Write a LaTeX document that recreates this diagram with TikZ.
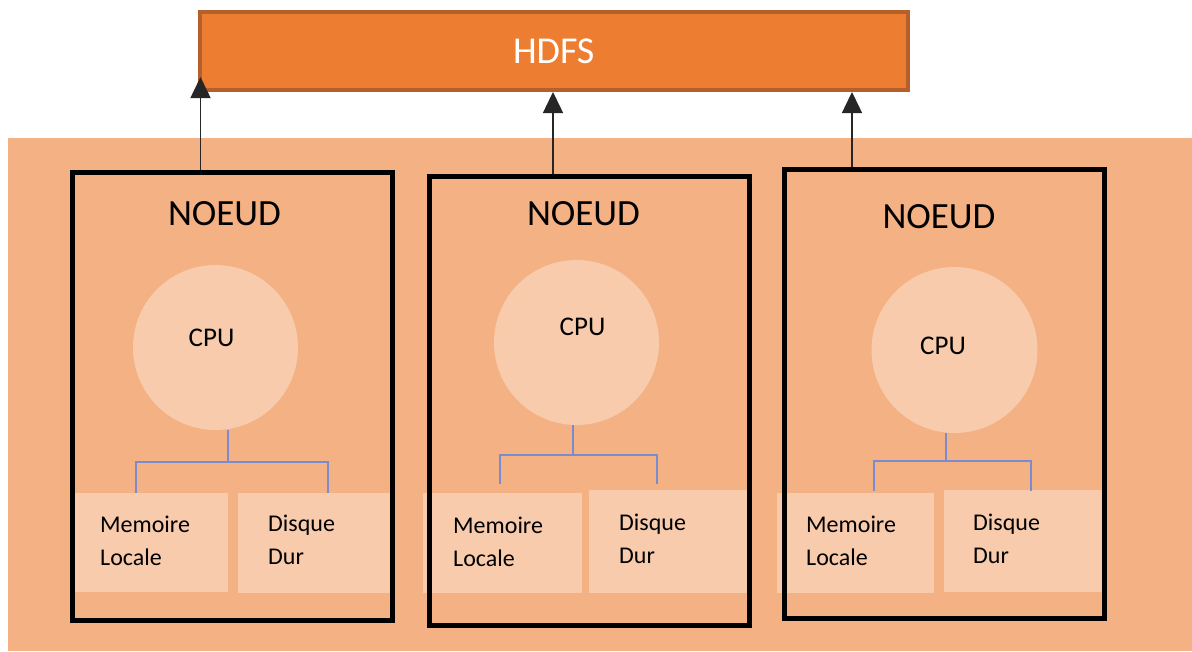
\documentclass[tikz,border=0pt]{standalone}
\usepackage{fontspec}
\setmainfont{Carlito}
\usetikzlibrary{arrows.meta}
\definecolor{hdfsfill}{HTML}{ED7D31}
\definecolor{hdfsline}{HTML}{B5602A}
\definecolor{bgfill}{HTML}{F4B183}
\definecolor{lightfill}{HTML}{F8CBAD}
\definecolor{connblue}{HTML}{7A8CCF}
\begin{document}
\begin{tikzpicture}[x=1pt,y=-1pt,
 hdfsbox/.style={draw=hdfsline,line width=4pt,fill=hdfsfill,text=white,font=\fontsize{38}{46}\selectfont,minimum width=707.5pt,minimum height=78pt,inner sep=0pt},
 nodebox/.style={draw=black,line width=5pt,minimum width=320pt,minimum height=449pt,inner sep=0pt},
 cpucircle/.style={circle,fill=lightfill,minimum size=165pt,inner sep=0pt},
 partbox/.style={fill=lightfill,inner sep=0pt},
 titletext/.style={anchor=base,inner sep=0pt,font=\fontsize{37}{44}\selectfont},
 cpulabel/.style={anchor=base,inner sep=0pt,font=\fontsize{27}{32}\selectfont},
 parttext/.style={anchor=base west,inner sep=0pt,align=left,font=\fontsize{24}{33}\selectfont},
 conn/.style={draw=connblue,line width=1.5pt},
 arr/.style={draw=black!85,line width=1.5pt,-{Triangle[length=21pt,width=20pt]}}
]
\useasboundingbox (0,0) rectangle (1192,651);
% background
\node[fill=bgfill,minimum width=1184pt,minimum height=513pt,inner sep=0pt] (bg) at (600,394.5) {};
% HDFS
\node[hdfsbox] (hdfs) at (553.75,51) {HDFS};
% part boxes
\node[partbox,minimum width=153pt,minimum height=99pt] (m1) at (151.5,542.5) {};
\node[partbox,minimum width=153pt,minimum height=100pt] (d1) at (314.5,543) {};
\node[partbox,minimum width=159pt,minimum height=100pt] (m2) at (502.5,543) {};
\node[partbox,minimum width=158pt,minimum height=103pt] (d2) at (668,541.5) {};
\node[partbox,minimum width=157pt,minimum height=100pt] (m3) at (855.5,543) {};
\node[partbox,minimum width=163pt,minimum height=102pt] (d3) at (1025.5,541) {};
% cpu circles
\node[cpucircle] (c1) at (215.5,347.5) {};
\node[cpucircle] (c2) at (576.5,342.5) {};
\node[cpucircle,minimum size=166pt] (c3) at (954.5,350) {};
% node frames
\node[nodebox,minimum width=319.5pt,minimum height=448pt] (n1) at (232.25,396.5) {};
\node[nodebox] (n2) at (589.5,401) {};
\node[nodebox] (n3) at (944.5,394) {};
% titles
\node[titletext] (t1) at (224.5,225) {NOEUD};
\node[titletext] (t2) at (583.5,225) {NOEUD};
\node[titletext] (t3) at (939,228) {NOEUD};
% cpu labels
\node[cpulabel] (cl1) at (211.5,346) {CPU};
\node[cpulabel] (cl2) at (582.5,335) {CPU};
\node[cpulabel] (cl3) at (943,354) {CPU};
% part texts (base anchor = baseline of the last line)
\node[parttext] (mt1) at (100,565) {Memoire\\Locale};
\node[parttext] (dt1) at (268,564) {Disque\\Dur};
\node[parttext] (mt2) at (453,566) {Memoire\\Locale};
\node[parttext] (dt2) at (619,563) {Disque\\Dur};
\node[parttext] (mt3) at (806,565) {Memoire\\Locale};
\node[parttext] (dt3) at (973,563) {Disque\\Dur};
% blue connectors
\coordinate (j1) at (228,462); \coordinate (l1) at (136,462); \coordinate (r1) at (328,462);
\coordinate (l1e) at (136,493); \coordinate (r1e) at (328,493);
\coordinate (j2) at (573,455); \coordinate (l2) at (500,455); \coordinate (r2) at (657,455);
\coordinate (l2e) at (500,484); \coordinate (r2e) at (657,484);
\coordinate (j3) at (946,461); \coordinate (l3) at (874,461); \coordinate (r3) at (1031,461);
\coordinate (l3e) at (874,491); \coordinate (r3e) at (1031,491);
\draw[conn] (j1 |- c1.south) -- (j1);
\draw[conn] (l1e) -- (l1) -- (r1) -- (r1e);
\draw[conn] (j2 |- c2.south) -- (j2);
\draw[conn] (l2e) -- (l2) -- (r2) -- (r2e);
\draw[conn] (j3 |- c3.south) -- (j3);
\draw[conn] (l3e) -- (l3) -- (r3) -- (r3e);
% arrows to HDFS
\coordinate (a1) at (200.5,77);
\coordinate (a2) at (553,0);
\coordinate (a3) at (852,0);
\draw[arr] (a1 |- n1.north) -- (a1);
\draw[arr] (a2 |- n2.north) -- (a2 |- hdfs.south);
\draw[arr] (a3 |- n3.north) -- (a3 |- hdfs.south);
\end{tikzpicture}
\end{document}
